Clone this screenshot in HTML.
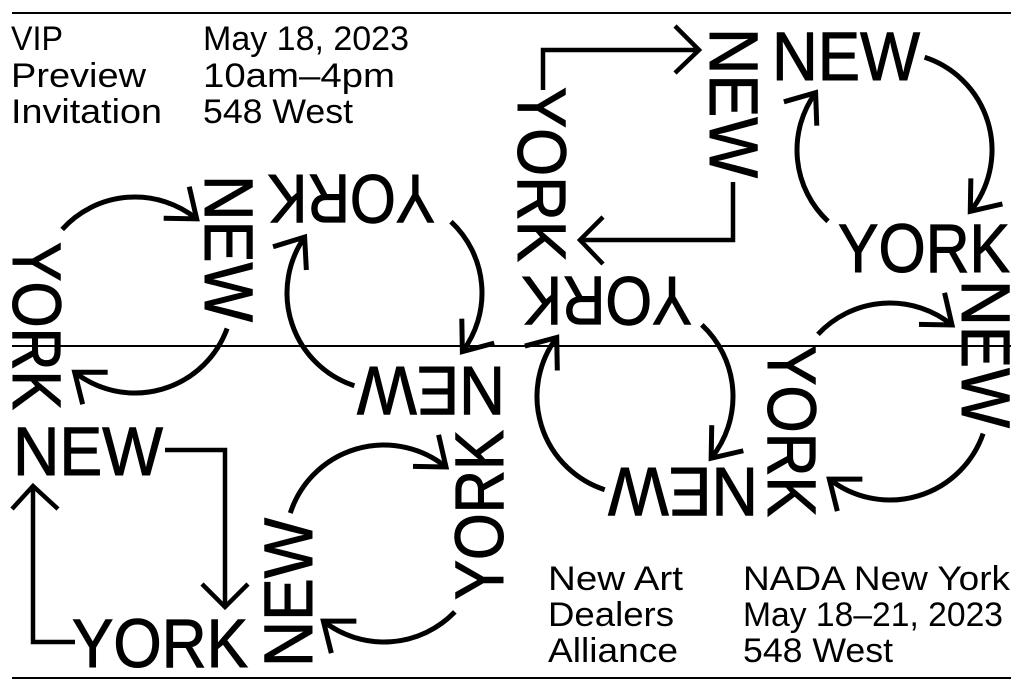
<!DOCTYPE html>
<html><head><meta charset="utf-8"><style>
html,body{margin:0;padding:0;background:#fff;width:1024px;height:691px;overflow:hidden}
svg{display:block}
text{font-family:"Liberation Sans",sans-serif;fill:#000}
</style></head><body>
<svg id="s" width="1024" height="691" viewBox="0 0 1024 691" xmlns="http://www.w3.org/2000/svg">
<g stroke="#000" stroke-width="2" fill="none">
<line x1="12" y1="13" x2="1011" y2="13"/>
<line x1="12" y1="346" x2="1011" y2="346"/>
<line x1="12" y1="678" x2="1011" y2="678"/>
</g>
<g font-size="34">
<text x="11" y="50" textLength="52" lengthAdjust="spacingAndGlyphs">VIP</text>
<text x="11" y="87" textLength="135" lengthAdjust="spacingAndGlyphs">Preview</text>
<text x="11" y="123" textLength="151" lengthAdjust="spacingAndGlyphs">Invitation</text>
<text x="203" y="50" textLength="206" lengthAdjust="spacingAndGlyphs">May 18, 2023</text>
<text x="203" y="87" textLength="192" lengthAdjust="spacingAndGlyphs">10am–4pm</text>
<text x="203" y="123" textLength="150" lengthAdjust="spacingAndGlyphs">548 West</text>
<text x="548" y="590" textLength="135" lengthAdjust="spacingAndGlyphs">New Art</text>
<text x="548" y="626" textLength="126" lengthAdjust="spacingAndGlyphs">Dealers</text>
<text x="548" y="662" textLength="130" lengthAdjust="spacingAndGlyphs">Alliance</text>
<text x="743" y="590" textLength="267" lengthAdjust="spacingAndGlyphs">NADA New York</text>
<text x="743" y="626" textLength="260" lengthAdjust="spacingAndGlyphs">May 18–21, 2023</text>
<text x="743" y="662" textLength="150" lengthAdjust="spacingAndGlyphs">548 West</text>
</g>
<g id="words" font-size="69" stroke="#000" stroke-width="1"></g>
<g id="arcs" stroke="#000" stroke-width="5" fill="none" stroke-linecap="butt"></g>
<g stroke="#000" stroke-width="4.5" fill="none">
<polyline points="165,450 225,450 225,608"/>
<polyline points="202,584 225,607 248,584"/>
<polyline points="75,642 33,642 33,485"/>
<polyline points="12,509 33,486 58,509"/>
<polyline points="543,90 543,50 700,50"/>
<polyline points="675,26 699,50 675,73"/>
<polyline points="733,182 733,240 579,240"/>
<polyline points="603,217 580,240 603,264"/>
</g>
</svg>
<script>
var NS="http://www.w3.org/2000/svg";
var W=document.getElementById("words"),A=document.getElementById("arcs");
var words=[
["NEW",90,205,175,255,322],
["YORK",180,268,175,435,225],
["YORK",90,13,242,62,410],
["NEW",180,357,367,505,418],
["NEW",0,13,425,163,475],
["YORK",270,453,430,503,600],
["NEW",270,262,518,312,667],
["YORK",0,72,617,248,667],
["NEW",90,710,28,760,178],
["NEW",0,772,28,920,80],
["YORK",90,518,87,570,262],
["YORK",0,838,220,1010,272],
["YORK",180,522,277,692,327],
["NEW",90,962,280,1012,428],
["YORK",90,768,345,818,517],
["NEW",180,608,468,758,520]
];
words.forEach(function(w){
 var t=document.createElementNS(NS,"text");t.textContent=w[0];
 var x0=w[2],y0=w[3],x1=w[4],y1=w[5],L,tr;
 if(w[1]==0){L=x1-x0;tr="translate("+x0+","+y1+")";}
 else if(w[1]==180){L=x1-x0;tr="translate("+x1+","+y0+") rotate(180)";}
 else if(w[1]==90){L=y1-y0;tr="translate("+x0+","+y0+") rotate(90)";}
 else {L=y1-y0;tr="translate("+x1+","+y1+") rotate(-90)";}
 t.setAttribute("x",0);t.setAttribute("y",0);
 t.setAttribute("textLength",L);t.setAttribute("lengthAdjust","spacingAndGlyphs");
 t.setAttribute("transform",tr);W.appendChild(t);
});
var arcs=[
[135,295,98,-138,-51],[135,295,98,20,128],
[384.5,293,97.5,-47,37],[384.5,293,97.5,108,215],
[384,543.5,98.5,-162,-51],[384,543.5,98.5,44,128],
[894.5,150,97.5,-72,39],[894.5,150,97.5,133,216],
[890,401.5,98.5,-137,-51],[890,401.5,98.5,19,128],
[635,396.5,98,-47,39],[635,396.5,98,108,217]
];
function P(c,a){var r=a*Math.PI/180;return [c[0]+c[2]*Math.cos(r),c[1]+c[2]*Math.sin(r)];}
arcs.forEach(function(c){
 var p1=P(c,c[3]),p2=P(c,c[4]);var big=(c[4]-c[3])>180?1:0;
 var d="M"+p1[0]+" "+p1[1]+" A"+c[2]+" "+c[2]+" 0 "+big+" 1 "+p2[0]+" "+p2[1];
 var path=document.createElementNS(NS,"path");path.setAttribute("d",d);A.appendChild(path);
 var a=c[4]*Math.PI/180;var tx=-Math.sin(a),ty=Math.cos(a);
 var ang=Math.atan2(ty,tx),len=33,sp=38*Math.PI/180;
 var b1=[p2[0]-len*Math.cos(ang-sp),p2[1]-len*Math.sin(ang-sp)];
 var b2=[p2[0]-len*Math.cos(ang+sp),p2[1]-len*Math.sin(ang+sp)];
 var h=document.createElementNS(NS,"polyline");
 h.setAttribute("points",b1.join(",")+" "+p2.join(",")+" "+b2.join(","));
 A.appendChild(h);
});
</script>
</body></html>
